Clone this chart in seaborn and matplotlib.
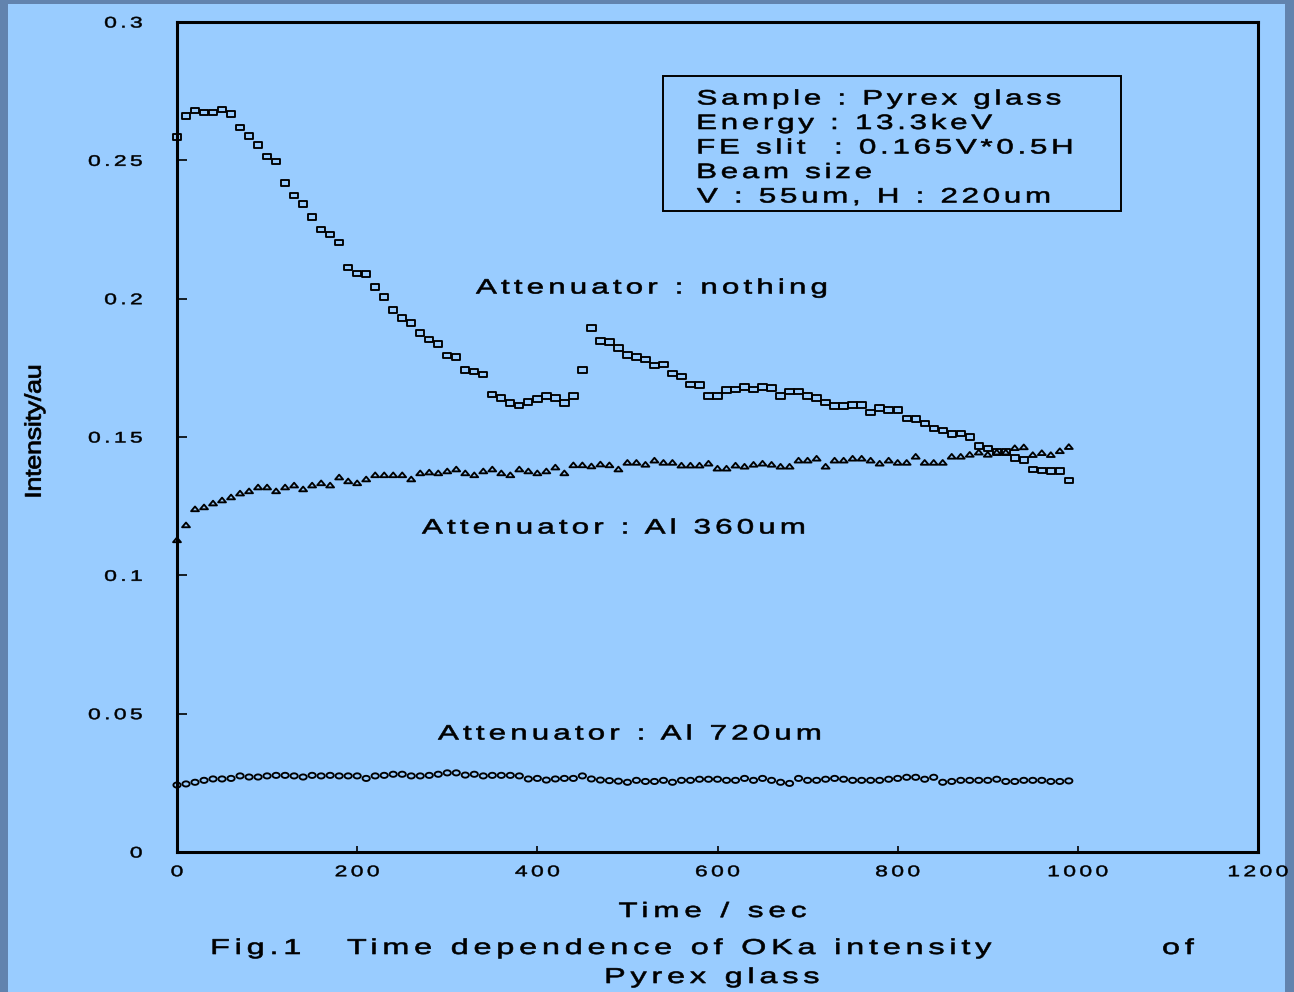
import numpy as np
import pandas as pd
import matplotlib
matplotlib.use("Agg")
import matplotlib.pyplot as plt
import seaborn as sns
from matplotlib.path import Path
from matplotlib.markers import MarkerStyle
from matplotlib.patches import Rectangle
from matplotlib.patheffects import AbstractPathEffect

plt.rcParams["font.family"] = ["Liberation Sans", "DejaVu Sans"]

W, H = 1294, 992
PANEL = "#99CCFF"
BORDER = "#6283AE"

# ---- data -------------------------------------------------------------
times = list(range(0, 1000, 10))

nothing = [
    0.2584, 0.2660, 0.2680, 0.2673, 0.2673, 0.2684, 0.2667, 0.2619, 0.2587, 0.2555,
    0.2514, 0.2496, 0.2417, 0.2373, 0.2341, 0.2294, 0.2250, 0.2232, 0.2203, 0.2113,
    0.2091, 0.2088, 0.2041, 0.2005, 0.1958, 0.1929, 0.1911, 0.1875, 0.1853, 0.1835,
    0.1795, 0.1788, 0.1741, 0.1737, 0.1726, 0.1654, 0.1640, 0.1622, 0.1614, 0.1626,
    0.1637, 0.1647, 0.1640, 0.1622, 0.1647, 0.1741, 0.1893, 0.1846, 0.1843, 0.1821,
    0.1796, 0.1788, 0.1780, 0.1759, 0.1762, 0.1730, 0.1719, 0.1690, 0.1687, 0.1647,
    0.1647, 0.1669, 0.1672, 0.1680, 0.1672, 0.1680, 0.1676, 0.1647, 0.1665, 0.1665,
    0.1647, 0.1640, 0.1625, 0.1611, 0.1611, 0.1615, 0.1615, 0.1589, 0.1604, 0.1597,
    0.1597, 0.1567, 0.1564, 0.1549, 0.1531, 0.1524, 0.1510, 0.1513, 0.1499, 0.1467,
    0.1459, 0.1445, 0.1445, 0.1423, 0.1416, 0.1383, 0.1379, 0.1376, 0.1376, 0.1343,
]

al360 = [
    0.1128, 0.1182, 0.1240, 0.1247, 0.1261, 0.1272, 0.1283, 0.1297, 0.1305, 0.1319,
    0.1319, 0.1305, 0.1319, 0.1326, 0.1312, 0.1326, 0.1334, 0.1326, 0.1355, 0.1341,
    0.1334, 0.1348, 0.1363, 0.1363, 0.1363, 0.1363, 0.1348, 0.1370, 0.1373, 0.1370,
    0.1377, 0.1384, 0.1370, 0.1363, 0.1377, 0.1384, 0.1370, 0.1363, 0.1384, 0.1377,
    0.1370, 0.1377, 0.1391, 0.1370, 0.1399, 0.1399, 0.1395, 0.1402, 0.1399, 0.1384,
    0.1408, 0.1408, 0.1401, 0.1416, 0.1408, 0.1408, 0.1398, 0.1398, 0.1398, 0.1405,
    0.1387, 0.1387, 0.1398, 0.1394, 0.1401, 0.1405, 0.1401, 0.1394, 0.1394, 0.1416,
    0.1416, 0.1423, 0.1394, 0.1416, 0.1416, 0.1423, 0.1423, 0.1416, 0.1405, 0.1416,
    0.1408, 0.1408, 0.1430, 0.1408, 0.1408, 0.1408, 0.1430, 0.1430, 0.1437, 0.1445,
    0.1437, 0.1445, 0.1445, 0.1461, 0.1464, 0.1436, 0.1443, 0.1436, 0.1450, 0.1465,
]

al720 = [
    0.0242, 0.0246, 0.0252, 0.0259, 0.0264, 0.0264, 0.0266, 0.0275, 0.0271, 0.0271,
    0.0275, 0.0277, 0.0277, 0.0275, 0.0271, 0.0277, 0.0275, 0.0277, 0.0275, 0.0275,
    0.0275, 0.0266, 0.0275, 0.0277, 0.0281, 0.0281, 0.0275, 0.0275, 0.0277, 0.0281,
    0.0286, 0.0286, 0.0278, 0.0281, 0.0275, 0.0277, 0.0277, 0.0277, 0.0275, 0.0264,
    0.0266, 0.0260, 0.0264, 0.0266, 0.0266, 0.0275, 0.0264, 0.0260, 0.0258, 0.0256,
    0.0252, 0.0259, 0.0255, 0.0255, 0.0259, 0.0252, 0.0259, 0.0259, 0.0263, 0.0263,
    0.0263, 0.0259, 0.0259, 0.0266, 0.0259, 0.0266, 0.0259, 0.0252, 0.0248, 0.0266,
    0.0259, 0.0259, 0.0263, 0.0266, 0.0263, 0.0259, 0.0259, 0.0259, 0.0259, 0.0263,
    0.0266, 0.0270, 0.0270, 0.0263, 0.0270, 0.0252, 0.0255, 0.0259, 0.0259, 0.0259,
    0.0259, 0.0263, 0.0255, 0.0255, 0.0259, 0.0259, 0.0259, 0.0255, 0.0255, 0.0257,
]

xticks = [0, 200, 400, 600, 800, 1000, 1200]
xtick_labels = ["0", "200", "400", "600", "800", "1000", "1200"]
yticks = [0, 0.05, 0.1, 0.15, 0.2, 0.25, 0.3]
ytick_labels = ["0", "0.05", "0.1", "0.15", "0.2", "0.25", "0.3"]

info_lines = [
    "Sample : Pyrex glass",
    "Energy : 13.3keV",
    "FE slit  : 0.165V*0.5H",
    "Beam size",
    "V : 55um, H : 220um",
]


# ---- wide, letter-spaced lettering ------------------------------------
class Spread(AbstractPathEffect):
    """Widen glyphs by `sx` (and `sy` across the line), add `track` em
    between glyphs and embolden by `stroke` points, keeping the left /
    centre / right ink edge in place."""

    def __init__(self, sx=1.5, sy=1.0, track=0.2, anchor="left", space=27.8,
                 stroke=0.45):
        super().__init__()
        self.sx, self.sy, self.track = sx, sy, track * 100.0
        self.anchor, self.space, self.stroke = anchor, space, stroke

    def draw_path(self, renderer, gc, tpath, affine, rgbFace=None):
        v = np.array(tpath.vertices, dtype=float)
        c = tpath.codes
        if c is None or len(v) == 0:
            renderer.draw_path(gc, tpath, affine, rgbFace)
            return
        real = c != Path.CLOSEPOLY
        starts = np.flatnonzero(c == Path.MOVETO)
        bounds = np.append(starts, len(v))
        segs = []
        for s, e in zip(bounds[:-1], bounds[1:]):
            xs = v[s:e][real[s:e], 0]
            if len(xs) == 0:
                continue
            segs.append((xs.min(), xs.max(), s, e))
        segs.sort(key=lambda t: t[0])
        idx = np.zeros(len(v))
        g, right = -1, None
        for x0, x1, s, e in segs:
            if right is None:
                g, right = 0, x1
            elif x0 > right - 2:
                gap = x0 - right
                g += 1 + max(0, int(round((gap - 8) / self.space)))
                right = x1
            else:
                right = max(right, x1)
            idx[s:e] = g
        xr = v[real, 0]
        yr = v[real, 1]
        xmin, xmax = xr.min(), xr.max()
        total = max(g, 0) * self.track
        if self.anchor == "left":
            a, shift = xmin, 0.0
        elif self.anchor == "right":
            a, shift = xmax, total
        else:
            a, shift = 0.5 * (xmin + xmax), total / 2.0
        cy = 0.5 * (yr.min() + yr.max())
        nv = v.copy()
        nv[:, 0] = a + (v[:, 0] - a) * self.sx + idx * self.track - shift
        nv[:, 1] = cy + (v[:, 1] - cy) * self.sy
        gc0 = renderer.new_gc()
        gc0.copy_properties(gc)
        if rgbFace is not None and self.stroke > 0:
            gc0.set_foreground(rgbFace)
            gc0.set_linewidth(self.stroke)
            gc0.set_joinstyle("round")
        renderer.draw_path(gc0, Path(nv, c), affine, rgbFace)
        gc0.restore()


def fx(px):
    return px / W


def fy(py):
    return 1.0 - py / H


# ---- figure ------------------------------------------------------------
fig = plt.figure(figsize=(W / 100, H / 100), dpi=100, facecolor=BORDER)
fig.patches.append(Rectangle((fx(8), 0), fx(1285) - fx(8), fy(4),
                             transform=fig.transFigure, facecolor=PANEL,
                             edgecolor="none", zorder=-5))

ax = fig.add_axes([fx(177), fy(852), fx(1258) - fx(177), fy(22) - fy(852)])
ax.set_facecolor(PANEL)

rect_marker = MarkerStyle(Path([(-1, -0.68), (1, -0.68), (1, 0.68), (-1, 0.68), (-1, -0.68)],
                               [Path.MOVETO, Path.LINETO, Path.LINETO, Path.LINETO, Path.CLOSEPOLY]))
tri_marker = MarkerStyle(Path([(-1, -0.58), (1, -0.58), (0, 0.62), (-1, -0.58)],
                              [Path.MOVETO, Path.LINETO, Path.LINETO, Path.CLOSEPOLY]))
th = np.linspace(0, 2 * np.pi, 33)
oval_marker = MarkerStyle(Path(np.column_stack([np.cos(th), 0.72 * np.sin(th)]), closed=True))

df = pd.DataFrame({"time": times, "nothing": nothing, "al360": al360, "al720": al720})

for col, mk, size in [("nothing", rect_marker, 36), ("al360", tri_marker, 32), ("al720", oval_marker, 27)]:
    sns.scatterplot(data=df, x="time", y=col, ax=ax, marker=mk, s=size,
                    facecolor="none", edgecolor="black", linewidth=1.35,
                    zorder=3, clip_on=False)

ax.set_xlim(0, 1200)
ax.set_ylim(0, 0.3)
ax.set_xticks(xticks, labels=xtick_labels)
ax.set_yticks(yticks, labels=ytick_labels)
ax.tick_params(axis="y", direction="in", length=7, width=1.2, pad=25,
               labelsize=11, colors="black")
ax.tick_params(axis="x", direction="in", length=4, width=1.2, pad=9.5,
               labelsize=11, colors="black")
for sp in ax.spines.values():
    sp.set_linewidth(2.2)
    sp.set_color("black")
ax.grid(False)

ax.set_xlabel("Time / sec", fontsize=15)
ax.xaxis.label.set_va("baseline")
ax.xaxis.set_label_coords((712.5 - 177) / 1081, (852 - 917) / 830)
ax.xaxis.label.set_path_effects([Spread(track=0.24, anchor="center")])

ax.set_ylabel("Intensity/au", fontsize=13)
ax.yaxis.label.set_va("center")
ax.yaxis.set_label_coords((35 - 177) / 1081, (852 - 431.5) / 830)
ax.yaxis.label.set_path_effects([Spread(sx=1.5, sy=1.25, track=-0.02, anchor="center",
                                        stroke=0.55)])

fig.canvas.draw()
for lab in ax.get_xticklabels():
    lab.set_path_effects([Spread(track=0.22, anchor="center", stroke=0.35)])
for lab in ax.get_yticklabels():
    lab.set_path_effects([Spread(track=0.22, anchor="right", stroke=0.35)])

# curve annotations
for txt, left, base in [("Attenuator : nothing", 476, 293.5),
                        ("Attenuator : Al 360um", 422, 533.5),
                        ("Attenuator : Al 720um", 438, 739.5)]:
    fig.text(fx(left), fy(base), txt, fontsize=15, ha="left", va="baseline",
             path_effects=[Spread()])

# measurement conditions box
fig.patches.append(Rectangle((fx(663), fy(211)), fx(1121) - fx(663), fy(76) - fy(211),
                             transform=fig.transFigure, facecolor="none",
                             edgecolor="black", linewidth=1.4, zorder=5))
for i, line in enumerate(info_lines):
    fig.text(fx(697), fy(104.5 + 24.5 * i), line, fontsize=15, ha="left",
             va="baseline", path_effects=[Spread(track=0.18)])

# caption
fig.text(fx(211), fy(954), "Fig.1   Time dependence of OKa intensity            of",
         fontsize=15.5, ha="left", va="baseline", path_effects=[Spread(track=0.225)])
fig.text(fx(605), fy(983), "Pyrex glass", fontsize=15.5, ha="left", va="baseline",
         path_effects=[Spread(track=0.225)])

fig.savefig("out.png", dpi=100, facecolor=BORDER)
